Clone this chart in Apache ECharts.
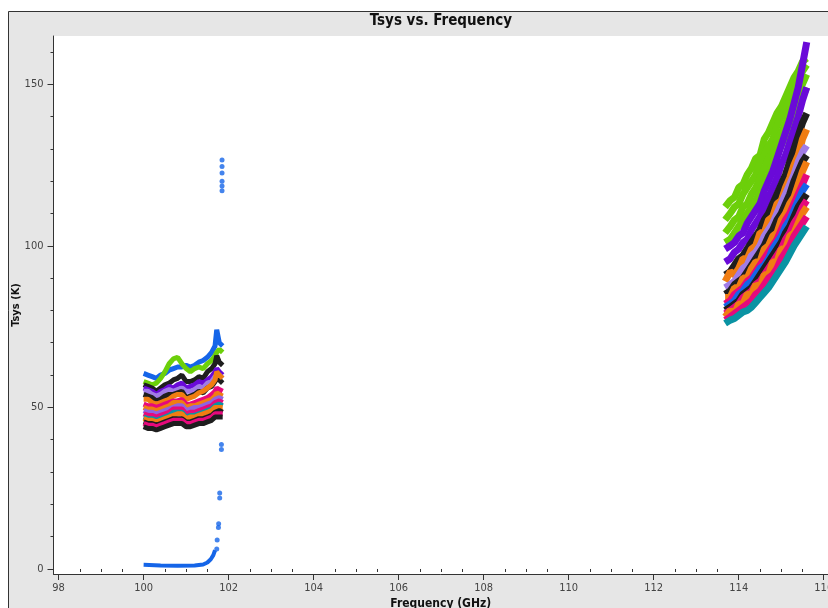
<!DOCTYPE html>
<html>
<head>
<meta charset="utf-8">
<title>Tsys vs. Frequency</title>
<script src="https://cdn.jsdelivr.net/npm/echarts@6/dist/echarts.min.js"></script>
<style>
html, body { margin: 0; padding: 0; background: #fff; }
#main { width: 828px; height: 608px; }
</style>
</head>
<body>
<div id="main"></div>
<script>
// tick positions
var xMajorTicks = [98, 100, 102, 104, 106, 108, 110, 112, 114, 116];
var xMinorTicks = [];
xMajorTicks.forEach(function (v) {
	if (v < 116) xMinorTicks.push(v + 0.5, v + 1, v + 1.5);
});
var yMajorTicks = [0, 50, 100, 150];
var yMinorTicks = [10, 20, 30, 40, 60, 70, 80, 90, 110, 120, 130, 140, 160];

// lower spectral window, one row per antenna/pol
var leftFreq = [100.0, 100.1, 100.2, 100.3, 100.4, 100.5, 100.6, 100.7, 100.8, 100.9, 101.0, 101.1, 101.2, 101.3, 101.4, 101.5, 101.6, 101.68, 101.72, 101.78, 101.86];
var leftColors = ['#1565e8', '#6ccf0a', '#1e1e1e', '#6a0ad8', '#a07ce6', '#1e1e1e', '#f07d12', '#e6097c',
	'#f07d12', '#8f64e0', '#e6097c', '#0a93a3', '#f07d12', '#1e1e1e', '#e6097c', '#1e1e1e'];
var leftTsys = [
	[60.5, 60, 59.5, 59, 60, 60.5, 61.5, 62, 62.5, 62.5, 63, 62.5, 63, 64, 64.5, 65.5, 67, 69, 74, 70, 69],
	[58, 57.5, 57, 57.5, 59, 61, 63.5, 65, 65.5, 63.5, 62, 61, 62, 62.5, 62, 63.5, 64.5, 66, 67, 68, 67],
	[57, 56.5, 56, 55, 56, 57, 57.5, 58.5, 59, 60, 58, 58, 58.5, 59.5, 59, 61, 62, 63.5, 66, 64, 63],
	[56, 55.5, 55, 54, 55, 55.5, 56.5, 56, 57, 57.5, 56, 56.5, 57, 58, 57.5, 58.5, 59.5, 61, 62, 61, 60],
	[55, 55, 54, 53.5, 54, 55, 55.5, 55, 55.5, 56, 55, 55, 55.5, 56.5, 56, 57.5, 58, 59.5, 60, 60, 59],
	[54, 53.5, 53, 52, 52.5, 53.5, 54, 54, 54.5, 55, 53, 53.5, 54, 55, 54.5, 56, 56.5, 58, 59, 58.5, 57.5],
	[52.5, 52.5, 51.5, 51, 51.5, 52, 52.5, 53.5, 54, 54, 52.5, 53, 53.5, 54.5, 55, 56, 57, 58.5, 61, 60, 59],
	[51, 50.5, 50.5, 50, 50.5, 51, 51.5, 52, 52, 52.5, 51, 51, 51.5, 52, 52.5, 53, 54, 55, 56, 55.5, 55],
	[50, 49.5, 49.5, 49, 49.5, 50, 50.5, 51.5, 51.5, 51.5, 50, 50.5, 50.5, 51, 51.5, 52, 52.5, 53.5, 54.5, 54, 53.5],
	[49, 48.5, 48.5, 48, 48.5, 49, 49.5, 50, 50.5, 50.5, 49, 49.5, 50, 50, 50.5, 51, 51.5, 52.5, 53, 53, 52.5],
	[48, 47.5, 47.5, 47, 47.5, 48, 48.5, 49.5, 49.5, 49.5, 48, 48.5, 48.5, 49, 49.5, 50, 50.5, 51.5, 52, 52, 51.5],
	[47, 46.5, 46.5, 46, 46.5, 47, 47.5, 48.5, 48.5, 48.5, 47, 47.5, 47.5, 48, 48.5, 49, 49.5, 50.5, 51, 51, 50.5],
	[46.5, 46, 46, 45.5, 46, 46.5, 47, 47.5, 48, 48, 46.5, 47, 47, 47.5, 48, 48.5, 49, 50, 50.5, 50, 50],
	[45.5, 45, 45, 44.5, 45, 45.5, 46, 46.5, 46.5, 46.5, 45.5, 45.5, 46, 46.5, 46.5, 47, 47.5, 48.5, 49, 49, 48.5],
	[45, 44.5, 44.5, 44, 44.5, 45, 45.5, 46, 46, 46, 45, 45, 45.5, 46, 46, 46.5, 47, 48, 48.5, 48, 48],
	[44, 43.5, 43.5, 43, 43.5, 44, 44.5, 45, 45, 45, 44, 44, 44.5, 45, 45, 45.5, 46, 47, 47.5, 47, 47]
];

// upper spectral window
var rightFreq = [113.68, 113.8, 113.9, 114.0, 114.1, 114.2, 114.3, 114.4, 114.5, 114.6, 114.7, 114.8, 114.9, 115.0, 115.1, 115.2, 115.3, 115.4, 115.5, 115.6];
var rightColors = ['#6ccf0a', '#6ccf0a', '#6ccf0a', '#6ccf0a', '#6a0ad8', '#6a0ad8', '#1e1e1e', '#f07d12', '#a07ce6',
	'#1e1e1e', '#f07d12', '#e6097c', '#1565e8', '#1e1e1e', '#e6097c', '#f07d12', '#e6097c', '#0a93a3'];
var rightTsys = [
	[112, 114, 115, 118, 119, 122, 124, 127, 128, 133, 135, 138, 141, 143, 146, 149, 152, 154, 157, 158],
	[108, 110, 112, 113, 116, 118, 120, 122, 126, 128, 131, 133, 137, 140, 142, 145, 148, 151, 154, 156],
	[104, 106, 108, 109, 112, 113, 116, 118, 121, 124, 127, 129, 133, 135, 138, 141, 144, 147, 150, 153],
	[101, 102, 104, 106, 108, 110, 112, 114, 117, 120, 122, 126, 128, 131, 134, 137, 140, 143, 146, 149],
	[99, 100, 101, 103, 104, 107, 109, 111, 113, 117, 120, 123, 127, 131, 135, 139, 144, 149, 156, 163],
	[95, 96, 98, 99, 101, 102, 105, 107, 109, 112, 115, 118, 121, 125, 128, 132, 136, 140, 145, 149],
	[91, 92, 94, 96, 97, 99, 101, 103, 105, 108, 110, 113, 116, 119, 122, 126, 130, 134, 138, 141],
	[89, 92, 91, 93, 96, 96, 99, 100, 104, 104, 108, 109, 113, 114, 118, 121, 125, 128, 133, 136],
	[87, 88, 89, 91, 93, 94, 97, 98, 100, 103, 105, 107, 110, 113, 116, 119, 122, 126, 129, 131],
	[85, 86, 88, 89, 90, 92, 94, 96, 98, 100, 103, 105, 108, 110, 113, 116, 120, 123, 126, 128],
	[84, 84, 87, 87, 90, 90, 93, 95, 95, 99, 100, 103, 104, 108, 110, 113, 115, 119, 123, 126],
	[82, 83, 85, 86, 87, 89, 90, 92, 94, 96, 98, 100, 102, 105, 108, 110, 113, 116, 119, 122],
	[81, 82, 83, 85, 86, 88, 89, 91, 93, 94, 96, 99, 101, 103, 106, 108, 111, 114, 117, 119],
	[80, 81, 82, 83, 85, 86, 87, 89, 91, 93, 95, 97, 99, 101, 104, 106, 109, 112, 114, 116],
	[79, 80, 81, 82, 84, 85, 86, 88, 89, 91, 93, 95, 97, 99, 102, 104, 107, 109, 112, 114],
	[78, 80, 79, 82, 82, 85, 85, 88, 87, 91, 91, 95, 95, 99, 99, 103, 104, 107, 110, 112],
	[77, 78, 79, 80, 81, 82, 83, 85, 86, 88, 90, 91, 93, 96, 98, 100, 103, 105, 107, 109],
	[76, 77, 77.5, 78.5, 79.5, 80, 81, 82.5, 84, 85.5, 87, 89, 91, 93, 95, 97.5, 100, 102, 104, 106]
];

// the one bad antenna near zero
var badFlatFreq = [100.0, 100.4, 100.8, 101.2, 101.4, 101.5, 101.58, 101.64, 101.68];
var badFlatTsys = [1.3, 1.1, 1.0, 1.1, 1.4, 2.0, 3.0, 4.3, 5.8];
var badPtsFreq = [101.72, 101.73, 101.76, 101.765, 101.79, 101.79, 101.83, 101.83, 101.845, 101.845, 101.845, 101.845, 101.845, 101.845];
var badPtsTsys = [6.2, 9, 12.8, 14, 22, 23.5, 37, 38.5, 117, 118.5, 120, 122.5, 124.5, 126.5];

var font = "'DejaVu Sans Condensed', 'DejaVu Sans', sans-serif";
var chart = echarts.init(document.getElementById('main'));

var series = [];
function pairs(xs, ys) {
	return xs.map(function (x, i) { return [x, ys[i]]; });
}
leftTsys.forEach(function (v, i) {
	series.push({
		type: 'line',
		data: pairs(leftFreq, v),
		showSymbol: false,
		clip: false,
		silent: true,
		lineStyle: { width: 5, color: leftColors[i] }
	});
});
rightTsys.forEach(function (v, i) {
	series.push({
		type: 'line',
		data: pairs(rightFreq, v),
		showSymbol: false,
		clip: false,
		silent: true,
		lineStyle: { width: 7, color: rightColors[i] }
	});
});
series.push({
	type: 'line',
	data: pairs(badFlatFreq, badFlatTsys),
	showSymbol: false,
	silent: true,
	lineStyle: { width: 4, color: '#1565e8' }
});
series.push({
	type: 'scatter',
	data: pairs(badPtsFreq, badPtsTsys),
	symbolSize: 5,
	silent: true,
	itemStyle: { color: '#1565e8' }
});

var axisColor = '#333';
option = {
	backgroundColor: '#fff',
	animation: false,
	graphic: [{
		type: 'rect',
		z: -10,
		shape: { x: 8.5, y: 11.5, width: 900, height: 700 },
		style: { fill: '#e6e6e6', stroke: '#333', lineWidth: 1 }
	}, {
		type: 'text',
		z: 10,
		x: 441,
		y: 21,
		style: {
			text: 'Tsys vs. Frequency',
			font: 'bold 15px ' + font,
			fill: '#111',
			textAlign: 'center',
			textVerticalAlign: 'middle'
		}
	}],
	grid: {
		left: 53.5,
		top: 36,
		right: 0,
		bottom: 34,
		outerBoundsMode: 'none',
		containLabel: false,
		show: true,
		backgroundColor: '#fff',
		borderWidth: 0
	},
	xAxis: [{
		type: 'value',
		min: 97.88,
		max: 116.1,
		position: 'bottom',
		name: 'Frequency (GHz)',
		nameLocation: 'middle',
		nameGap: 24,
		nameMoveOverlap: false,
		nameTextStyle: { fontFamily: font, fontWeight: 'bold', fontSize: 12, color: '#111' },
		axisLine: { onZero: false, lineStyle: { color: axisColor } },
		axisTick: { customValues: xMajorTicks, length: 6, lineStyle: { color: axisColor } },
		axisLabel: { customValues: xMajorTicks, margin: 9, fontFamily: font, fontSize: 11, color: '#444' },
		splitLine: { show: false }
	}, {
		type: 'value',
		min: 97.88,
		max: 116.1,
		position: 'bottom',
		axisLine: { show: false },
		axisTick: { customValues: xMinorTicks, length: 3, lineStyle: { color: axisColor } },
		axisLabel: { show: false },
		splitLine: { show: false }
	}],
	yAxis: [{
		type: 'value',
		min: -1.55,
		max: 164.9,
		position: 'left',
		name: 'Tsys (K)',
		nameLocation: 'middle',
		nameGap: 32,
		nameMoveOverlap: false,
		nameTextStyle: { fontFamily: font, fontWeight: 'bold', fontSize: 11, color: '#111' },
		axisLine: { show: true, onZero: false, lineStyle: { color: axisColor } },
		axisTick: { show: true, customValues: yMajorTicks, length: 6, lineStyle: { color: axisColor } },
		axisLabel: { customValues: yMajorTicks, margin: 10, fontFamily: font, fontSize: 11, color: '#444' },
		splitLine: { show: false }
	}, {
		type: 'value',
		min: -1.55,
		max: 164.9,
		position: 'left',
		axisLine: { show: false },
		axisTick: { show: true, customValues: yMinorTicks, length: 3, lineStyle: { color: axisColor } },
		axisLabel: { show: false },
		splitLine: { show: false }
	}],
	series: series
};

chart.setOption(option);

window.onresize = function () {
	chart.resize();
};
</script>
</body>
</html>
